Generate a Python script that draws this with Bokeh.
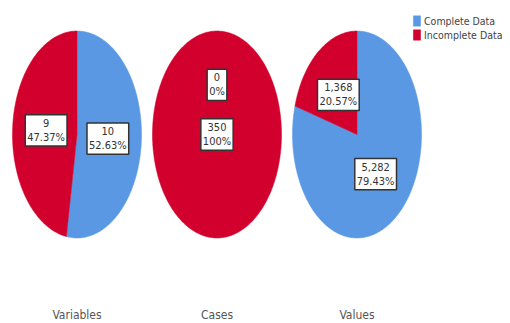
import numpy as np
from bokeh.plotting import figure
from bokeh.models import Range1d, ColumnDataSource, Legend, LegendItem
from bokeh.core.properties import value
from bokeh.embed import file_html
from bokeh.resources import INLINE

# Missing-value summary: one pie per aspect
aspects = ["Variables", "Cases", "Values"]
series = ["Complete Data", "Incomplete Data"]
complete = [10, 0, 5282]
incomplete = [9, 350, 1368]
colors = ["#5A98E4", "#D2002C"]

W, H = 510, 323
FONT = "'Liberation Sans Narrow', 'DejaVu Sans Condensed', sans-serif"

p = figure(width=W, height=H, output_backend="svg", toolbar_location=None,
           x_range=Range1d(0, W), y_range=Range1d(H, 0),
           x_axis_location=None, y_axis_location=None, min_border=0)
p.grid.visible = False
p.outline_line_color = None
p.background_fill_color = "white"

# layout of the three ellipses (screen units)
centers_x = [76.5, 216.5, 356.5]
center_y = 134
rx, ry = 64.5, 103.5


def ellipse_pt(cx, f, r=1.0):
    a = 2 * np.pi * f
    return cx + r * rx * np.sin(a), center_y - r * ry * np.cos(a)


slice_xs = {s: [] for s in series}
slice_ys = {s: [] for s in series}
lab_x, lab_y, lab_t = [], [], []

for i, name in enumerate(aspects):
    vals = [complete[i], incomplete[i]]
    total = sum(vals)
    cx = centers_x[i]
    start = 0.0
    for s, v in zip(series, vals):
        frac = v / total
        end = start + frac
        if frac > 0:
            n = max(int(frac * 240), 2)
            fs = np.linspace(start, end, n)
            ex, ey = ellipse_pt(cx, fs)
            if frac < 1:
                xs = np.concatenate([[cx], ex])
                ys = np.concatenate([[center_y], ey])
            else:
                xs, ys = ex, ey
            slice_xs[s].append(list(xs))
            slice_ys[s].append(list(ys))
        # label position: centre for a full pie, else half-way along the mid angle
        if frac >= 1:
            lx, ly = cx, center_y
        else:
            lx, ly = ellipse_pt(cx, (start + end) / 2, 0.48)
        lab_x.append(lx)
        lab_y.append(ly)
        lab_t.append(f"{v:,}\n{frac * 100:.2f}%".replace(".00%", "%"))
        start = end

renderers = []
for s, c in zip(series, colors):
    r = p.patches(xs=slice_xs[s], ys=slice_ys[s], fill_color=c,
                  line_color=c, line_width=0.5)
    renderers.append(r)

# value boxes
src = ColumnDataSource(dict(x=lab_x, y=lab_y, t=lab_t))
p.text(x="x", y="y", text="t", source=src, text_align="center",
       text_baseline="middle", text_font=value(FONT), text_font_size="11px",
       text_color="#333333", text_line_height=1.1,
       background_fill_color="white", border_line_color="#333333",
       border_line_width=1.5, padding=2)

# category captions below each pie
p.text(x=centers_x, y=[314] * 3, text=aspects, text_align="center",
       text_baseline="middle", text_font=value(FONT), text_font_size="12px",
       text_color="#555555")

legend = Legend(items=[LegendItem(label=s, renderers=[r]) for s, r in zip(series, renderers)],
                location=(412, 282), orientation="vertical",
                glyph_width=9, glyph_height=13, spacing=1, padding=0, margin=0,
                label_standoff=3, label_text_font=FONT, label_text_font_size="10.5px",
                label_text_color="#444444", label_height=13,
                border_line_color=None, background_fill_alpha=0)
p.add_layout(legend, "center")

open("out.html", "w").write(file_html(p, INLINE))
